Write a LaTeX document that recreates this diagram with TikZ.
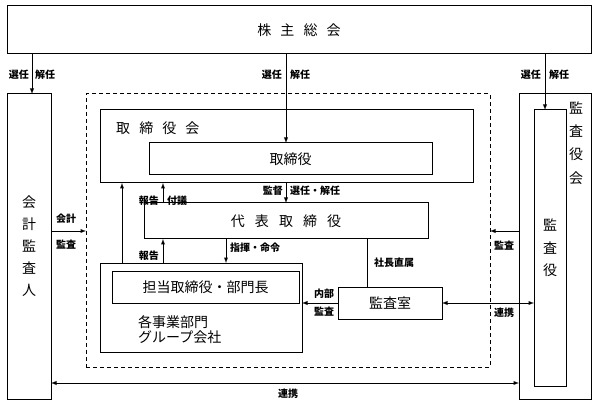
\documentclass[tikz,border=0pt]{standalone}
\usepackage{fontspec}
\setmainfont{Noto Sans CJK JP}
\usepackage{tikz}
\usetikzlibrary{arrows}
\tikzstyle{arrow} = [line width=0.9pt,->,>=latex]
\tikzstyle{twoway} = [line width=0.9pt,<->,>=latex]
\newcommand{\jsp}{\hspace{0.65em}}
\newcommand{\wsp}{\hspace{0.72em}}

\begin{document}
\begin{tikzpicture}
        [
            x=1pt,y=-1pt,
            box/.style={rectangle,draw=black,line width=1pt,inner sep=0pt,outer sep=0pt,font=\fontsize{14}{16}\selectfont},
            lbl/.style={inner sep=0pt,font=\fontsize{10}{12}\selectfont\bfseries},
            big/.style={inner sep=0pt,font=\fontsize{14}{16}\selectfont},
            vtext/.style={inner sep=0pt,align=center,font=\fontsize{14}{23.3}\selectfont},
        ]
    \useasboundingbox (0,0) rectangle (597,406);

    \node[box,minimum width=584pt,minimum height=48pt] (meeting) at (299,30) {株\jsp{}主\jsp{}総\jsp{}会};
    \node[box,align=center,font=\fontsize{14}{22}\selectfont,minimum width=44pt,minimum height=305pt] (auditor) at (29,246.5) {会\\計\\監\\査\\人};
    \node[box,dash pattern=on 4pt off 3pt,minimum width=404pt,minimum height=273pt] (group) at (288,230.5) {};
    \node[box,minimum width=373pt,minimum height=73pt] (board) at (286.5,146.5) {};
    \node[big,anchor=west] (boardname) at (116,128) {取\jsp{}締\jsp{}役\jsp{}会};
    \node[box,minimum width=283pt,minimum height=32pt] (dirs) at (290.5,159) {取締役};
    \node[box,minimum width=284pt,minimum height=36pt] (pres) at (286,221) {代\wsp{}表\wsp{}取\wsp{}締\wsp{}役};
    \node[box,minimum width=202pt,minimum height=89pt] (div) at (201,307.5) {};
    \node[box,minimum width=187pt,minimum height=32pt] (mgr) at (205.5,287) {担当取締役・部門長};
    \node[big,anchor=west,align=left,font=\fontsize{14}{15}\selectfont] (divname) at (138,329.5) {各事業部門\\グループ会社};
    \node[box,minimum width=104pt,minimum height=32pt] (audit) at (390,303) {監査室};
    \node[box,minimum width=72pt,minimum height=305pt] (kyk) at (555,246.5) {};
    \node[vtext] (kykname) at (576,143) {監\\査\\役\\会};
    \node[box,align=center,font=\fontsize{14}{22.5}\selectfont,minimum width=32pt,minimum height=276pt] (kansayaku) at (550,248) {監\\査\\役};

    \coordinate (acctop) at ([xshift=3pt]auditor.north);
    \coordinate (kyktop) at ([xshift=-5pt]kansayaku.north);
    \coordinate (rep) at ([xshift=19pt]pres.north west);
    \coordinate (cmd) at ([xshift=82pt]pres.south west);
    \coordinate (rep2) at ([xshift=22pt]div.north west);
    \coordinate (acc) at ([yshift=15.5pt]auditor.east);
    \coordinate (direct) at ([xshift=-23pt]audit.north);
    \coordinate (link) at ([yshift=-136.5pt]auditor.east);

    \draw[arrow] (meeting.south -| acctop) -- (acctop);
    \draw[arrow] (meeting.south -| pres.north) -- (dirs.north -| pres.north);
    \draw[arrow] (meeting.south -| kyktop) -- (kyktop);
    \draw[arrow] (board.south -| pres.north) -- (pres.north);
    \draw[arrow] (rep) -- (board.south -| rep);
    \draw[arrow] (div.north -| rep) -- (pres.south -| rep);
    \draw[arrow] (cmd) -- (div.north -| cmd);
    \draw[arrow] (rep2) -- (board.south -| rep2);
    \draw[arrow] (acc) -- (acc -| group.west);
    \draw[arrow] (acc -| kyk.west) -- (acc -| group.east);
    \draw[line width=0.9pt] (pres.south -| direct) -- (direct);
    \draw[arrow] (audit.west) -- (audit.west -| div.east);
    \draw[twoway] (audit.east) -- (audit.east -| kansayaku.west);
    \draw[twoway] (link) -- (link -| kyk.west);

    \node[lbl,anchor=east] (sel1) at (29,75) {選任};
    \node[lbl,anchor=west] (dis1) at (35,75) {解任};
    \node[lbl,anchor=east] (sel2) at (282,75) {選任};
    \node[lbl,anchor=west] (dis2) at (290,75) {解任};
    \node[lbl,anchor=east] (sel3) at (541,75) {選任};
    \node[lbl,anchor=west] (dis3) at (549,75) {解任};
    \node[lbl,anchor=east] (superv) at (283,191) {監督};
    \node[lbl,anchor=west] (seldis) at (290,191) {選任・解任};
    \node[lbl,anchor=east] (report1) at (159,201) {報告};
    \node[lbl,anchor=west] (propose) at (167,201) {付議};
    \node[lbl,anchor=east] (report2) at (159,256) {報告};
    \node[lbl,anchor=west] (command) at (230,248) {指揮・命令};
    \node[lbl] (accl1) at (66,219) {会計};
    \node[lbl] (accl2) at (66,245) {監査};
    \node[lbl] (kyklbl) at (504,246) {監査};
    \node[lbl,anchor=west] (presdirect) at (374,263) {社長直属};
    \node[lbl] (inner1) at (324,294) {内部};
    \node[lbl] (inner2) at (324,312) {監査};
    \node[lbl] (link1) at (504,313) {連携};
    \node[lbl] (link2) at (288,394) {連携};
\end{tikzpicture}
\end{document}
